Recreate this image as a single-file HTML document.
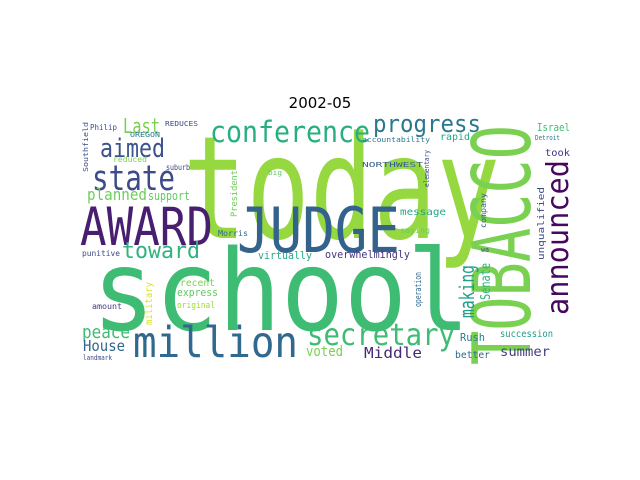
<!DOCTYPE html>
<html><head><meta charset="utf-8"><style>
html,body{margin:0;padding:0;background:#fff;width:640px;height:480px;overflow:hidden}
svg text{font-family:"DejaVu Sans Mono","Liberation Mono",monospace}
</style></head><body>
<svg id="wc" width="640" height="480" viewBox="0 0 640 480">
<text x="320" y="108" text-anchor="middle" font-size="15" style="font-family:'DejaVu Sans',sans-serif" fill="#000">2002-05</text>
</svg>
<script>
// word, x, y, font size, color, extent, vertical(1)
const words = ["today","school","JUDGE","AWARD","TOBACCO","announced","million","secretary","conference","progress","state","aimed","Last","toward","planned","support","making","Senate","peace","House","landmark","voted","Middle","Rush","better","succession","summer","overwhelmingly","virtually","recent","express","original","amount","military","punitive","operation","wa","unqualified","company","saying","message","elementary","NORTHWEST","accountability","rapid","Israel","Detroit","took","Philip","REDUCES","OREGON","reduced","suburb","big","Southfield","President","Morris"];
const xs = [183,92,237,80,530,568,133,307,210,373,92,100,123,122,87,148,474,490,82,83,83,306,364,460,455,500,500,325,258,180,177,177,92,152,82,421,481,544,486,400,400,429,362,362,440,537,535,545,90,165,130,113,166,268,88,237,218];
const ys = [238,330,252,245,365,315,357,345,142,132,190,157,133,258,200,200,318,300,338,351,360,356,358,341,358,337,356,258,259,286,296,308,309,325,256,307,252,260,228,233,215,187,167,142,140,131,140,156,130,126,137,162,170,175,172,217,236];
const sizes = [143,112,62,53,80,30,43,30,29,24,35,26,20,22,16,12,20,13,18,15,7,14,15,11,10,10,13,11,11,10,11,9,8,10,8,9,7,9,8,8,10,7,7,7,10,11,7,10,8,7,7,8,8,7,7,9,8];
const colors = ["#95d840","#3fbc73","#33638d","#481f70","#7ad151","#46085c","#31688e","#3fbc73","#29af7f","#2a788e","#3e4a89","#3b528b","#7ad151","#2fb47c","#6ccd5a","#5ec962","#1f9e89","#2db27d","#3fbc73","#31688e","#3e4a89","#7ad151","#482878","#26828e","#31688e","#1f9e89","#433e85","#46337e","#22a884","#7ad151","#5ec962","#a0da39","#443983","#dde318","#3e4a89","#31688e","#3e4a89","#3e4a89","#355f8d","#6ccd5a","#22a884","#3e4a89","#355f8d","#2a788e","#22a884","#3fbc73","#2a788e","#46337e","#3e4a89","#3e4a89","#2a788e","#7ad151","#3e4a89","#5ec962","#3e4a89","#6ccd5a","#31688e"];
const extents = [317,378,163,133,240,155,165,148,160,108,83,65,37,78,60,42,53,37,48,42,29,37,58,25,35,53,50,85,54,35,41,38,30,43,38,35,8,73,35,30,46,37,61,68,30,33,25,25,27,33,30,34,24,14,50,47,30];
const vertical = [0,0,0,0,1,1,0,0,0,0,0,0,0,0,0,0,1,1,0,0,0,0,0,0,0,0,0,0,0,0,0,0,0,1,0,1,0,1,1,0,0,1,0,0,0,0,0,0,0,0,0,0,0,0,1,1,0];
const svg = document.getElementById('wc');
const NS = 'http://www.w3.org/2000/svg';
for (let i = 0; i < words.length; i++) {
  const t = document.createElementNS(NS, 'text');
  t.setAttribute('x', xs[i]);
  t.setAttribute('y', ys[i]);
  t.setAttribute('font-size', sizes[i]);
  t.setAttribute('fill', colors[i]);
  t.setAttribute('textLength', extents[i]);
  t.setAttribute('lengthAdjust', 'spacingAndGlyphs');
  if (vertical[i]) t.setAttribute('transform', 'rotate(-90 ' + xs[i] + ' ' + ys[i] + ')');
  t.textContent = words[i];
  
  
  svg.appendChild(t);
}
</script>
</body></html>
